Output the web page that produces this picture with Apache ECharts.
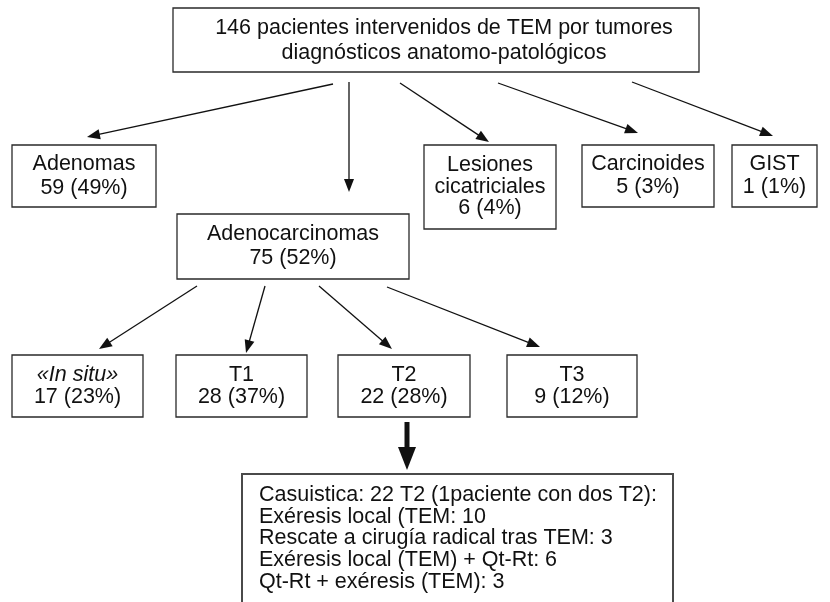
<!DOCTYPE html>
<html>
<head>
<meta charset="utf-8">
<script src="https://cdn.jsdelivr.net/npm/echarts@6/dist/echarts.min.js"></script>
<style>
    html, body { margin: 0; padding: 0; background: #fff; }
    #chart { width: 830px; height: 602px; }
</style>
</head>
<body>
<div id="chart"></div>
<script>
    const totalPatients = 146;
    const rootLines = ['pacientes intervenidos de TEM por tumores', 'diagnósticos anatomo-patológicos'];
    const categories = ['Adenomas', 'Adenocarcinomas', 'Lesiones\ncicatriciales', 'Carcinoides', 'GIST'];
    const categoryCounts = [59, 75, 6, 5, 1];
    const categoryPercents = [49, 52, 4, 3, 1];
    const stages = ['«In situ»', 'T1', 'T2', 'T3'];
    const stageCounts = [17, 28, 22, 9];
    const stagePercents = [23, 37, 28, 12];
    const t2Header = 'Casuistica: 22 T2 (1paciente con dos T2):';
    const t2Labels = ['Exéresis local (TEM', 'Rescate a cirugía radical tras TEM', 'Exéresis local (TEM) + Qt-Rt', 'Qt-Rt + exéresis (TEM)'];
    const t2Values = [10, 3, 6, 3];

    // Layout of the diagram (page pixels): box corners and connector ends
    const rootBox = { box: [173, 8, 699, 72], tx: 444, ty: 41, lh: 25 };
    const categoryBoxes = [
        { box: [12, 145, 156, 207], lh: 24 },
        { box: [177, 214, 409, 279], lh: 24 },
        { box: [424, 145, 556, 229], lh: 21.5 },
        { box: [582, 145, 714, 207], lh: 23 },
        { box: [732, 145, 817, 207], lh: 23 }
    ];
    const stageBoxes = [
        { box: [12, 355, 143, 417], lh: 22 },
        { box: [176, 355, 307, 417], lh: 22 },
        { box: [338, 355, 470, 417], lh: 22 },
        { box: [507, 355, 637, 417], lh: 22 }
    ];
    const detailBox = { box: [242, 474, 673, 640], tx: 259, ty: 484, lh: 21.8 };
    const categoryArrows = [
        [333, 84, 87, 137],
        [349, 82, 349, 192],
        [400, 83, 489, 142],
        [498, 83, 638, 133],
        [632, 82, 773, 136]
    ];
    const stageArrows = [
        [197, 286, 99, 349],
        [265, 286, 246, 353],
        [319, 286, 392, 349],
        [387, 287, 540, 347]
    ];
    const detailArrow = [407, 422, 407, 470];

    const FONT = 'Liberation Sans, Arial, Helvetica, sans-serif';
    const FONT_SIZE = 21.5;
    const INK = '#111';

    // Build the node list from the arrays above
    const nodes = [];
    nodes.push({ ...rootBox, text: totalPatients + ' ' + rootLines[0] + '\n' + rootLines[1] });
    categories.forEach((c, i) => {
        nodes.push({ ...categoryBoxes[i], text: c + '\n' + categoryCounts[i] + ' (' + categoryPercents[i] + '%)' });
    });
    stages.forEach((s, i) => {
        const name = i === 0 ? '{i|' + s + '}' : s;
        nodes.push({ ...stageBoxes[i], text: name + '\n' + stageCounts[i] + ' (' + stagePercents[i] + '%)' });
    });
    nodes.push({
        ...detailBox, left: true, stroke: '#4a4a4a', lw: 2,
        text: [t2Header].concat(t2Labels.map((l, i) => l + ': ' + t2Values[i])).join('\n')
    });

    const arrows = categoryArrows.concat(stageArrows).map(a => ({ seg: a, shaft: 1.3, hl: 13, hw: 10 }));
    arrows.push({ seg: detailArrow, shaft: 5, hl: 23, hw: 18 });

    const chart = echarts.init(document.getElementById('chart'));
    chart.setOption({
        animation: false,
        backgroundColor: '#fff',
        grid: { left: 0, right: 0, top: 0, bottom: 0 },
        xAxis: { type: 'value', min: 0, max: 830, show: false },
        yAxis: { type: 'value', min: 0, max: 602, inverse: true, show: false },
        series: [
            {
                type: 'custom',
                clip: false,
                data: arrows.map(a => a.seg),
                encode: { x: [0, 2], y: [1, 3] },
                renderItem: function (params, api) {
                    const a = arrows[params.dataIndex];
                    const p0 = api.coord([a.seg[0], a.seg[1]]);
                    const p1 = api.coord([a.seg[2], a.seg[3]]);
                    const dx = p1[0] - p0[0], dy = p1[1] - p0[1];
                    const len = Math.sqrt(dx * dx + dy * dy);
                    const ux = dx / len, uy = dy / len;
                    const bx = p1[0] - ux * a.hl, by = p1[1] - uy * a.hl;
                    const nx = -uy * a.hw / 2, ny = ux * a.hw / 2;
                    return {
                        type: 'group',
                        children: [
                            {
                                type: 'line',
                                shape: { x1: p0[0], y1: p0[1], x2: bx + ux, y2: by + uy },
                                style: { stroke: INK, lineWidth: a.shaft }
                            },
                            {
                                type: 'polygon',
                                shape: { points: [[p1[0], p1[1]], [bx + nx, by + ny], [bx - nx, by - ny]] },
                                style: { fill: INK }
                            }
                        ]
                    };
                }
            },
            {
                type: 'custom',
                clip: false,
                data: nodes.map(n => n.box),
                encode: { x: [0, 2], y: [1, 3] },
                renderItem: function (params, api) {
                    const n = nodes[params.dataIndex];
                    const p0 = api.coord([n.box[0], n.box[1]]);
                    const p1 = api.coord([n.box[2], n.box[3]]);
                    let tx = (p0[0] + p1[0]) / 2, ty = (p0[1] + p1[1]) / 2;
                    if (n.tx != null) tx = api.coord([n.tx, 0])[0];
                    if (n.ty != null) ty = api.coord([0, n.ty])[1];
                    return {
                        type: 'group',
                        children: [
                            {
                                type: 'rect',
                                shape: { x: p0[0], y: p0[1], width: p1[0] - p0[0], height: p1[1] - p0[1] },
                                style: { fill: '#fff', stroke: n.stroke || '#2a2a2a', lineWidth: n.lw || 1.3 }
                            },
                            {
                                type: 'text',
                                x: tx,
                                y: ty,
                                style: {
                                    text: n.text,
                                    fill: INK,
                                    fontFamily: FONT,
                                    fontSize: FONT_SIZE,
                                    lineHeight: n.lh,
                                    align: n.left ? 'left' : 'center',
                                    verticalAlign: n.left ? 'top' : 'middle',
                                    rich: {
                                        i: { fontStyle: 'italic', fontFamily: FONT, fontSize: FONT_SIZE, lineHeight: n.lh, fill: INK }
                                    }
                                }
                            }
                        ]
                    };
                }
            }
        ]
    });
</script>
</body>
</html>
